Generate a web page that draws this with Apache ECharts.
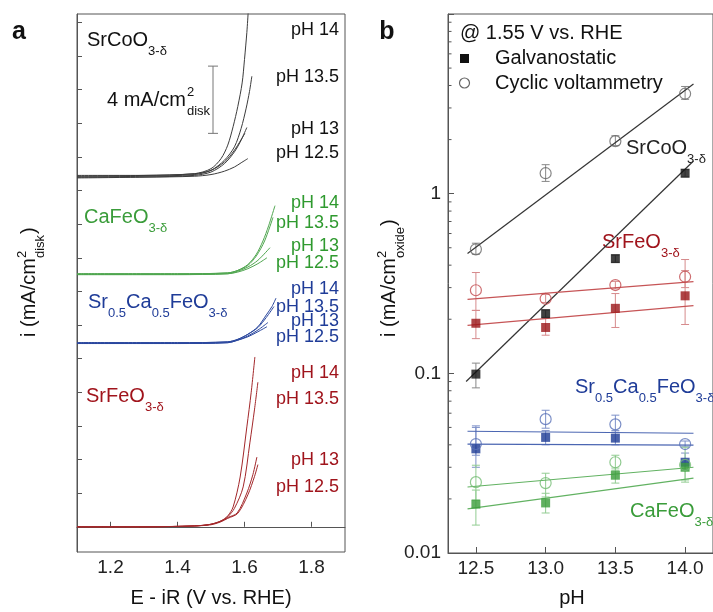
<!DOCTYPE html>
<html>
<head>
<meta charset="utf-8">
<title>OER activity vs pH</title>
<script src="https://cdn.jsdelivr.net/npm/echarts@6/dist/echarts.min.js"></script>
<style>
  html, body { margin: 0; padding: 0; background: #fff; }
  #main { width: 713px; height: 612px; }
</style>
</head>
<body>
<div id="main"></div>
<script>
// ---------- panel a : polarisation curves, [E - iR (V), i offset (mA/cm2)] ----------
var scoPH14  = [[1.10, 20.85], [1.30, 20.9], [1.45, 21.0], [1.50, 21.3], [1.53, 21.9], [1.55, 22.7], [1.566, 23.8], [1.58, 25.0], [1.593, 26.4], [1.60, 27.8], [1.607, 29.4], [1.611, 30.6]];
var scoPH135 = [[1.10, 20.8], [1.30, 20.85], [1.45, 20.95], [1.50, 21.2], [1.54, 21.8], [1.57, 22.6], [1.59, 23.7], [1.605, 24.9], [1.615, 25.9], [1.622, 26.8]];
var scoPH13a = [[1.10, 20.75], [1.30, 20.8], [1.45, 20.9], [1.50, 21.1], [1.54, 21.6], [1.57, 22.3], [1.59, 23.0], [1.607, 23.75]];
var scoPH13b = [[1.10, 20.9], [1.30, 20.9], [1.45, 21.0], [1.50, 21.2], [1.54, 21.7], [1.57, 22.4], [1.601, 23.4]];
var scoPH125 = [[1.10, 20.8], [1.30, 20.8], [1.45, 20.85], [1.50, 20.95], [1.54, 21.15], [1.57, 21.4], [1.59, 21.65], [1.61, 21.9]];

var cfoPH14  = [[1.10, 15.05], [1.40, 15.05], [1.55, 15.1], [1.58, 15.25], [1.61, 15.6], [1.635, 16.2], [1.655, 17.0], [1.672, 17.9], [1.691, 19.1]];
var cfoPH135 = [[1.10, 15.05], [1.40, 15.05], [1.55, 15.1], [1.58, 15.25], [1.61, 15.55], [1.635, 16.1], [1.66, 17.0], [1.685, 18.4]];
var cfoPH13  = [[1.10, 15.0], [1.40, 15.0], [1.55, 15.05], [1.58, 15.2], [1.61, 15.45], [1.64, 15.85], [1.676, 16.6]];
var cfoPH125 = [[1.10, 15.0], [1.40, 15.0], [1.55, 15.05], [1.58, 15.15], [1.61, 15.35], [1.64, 15.65], [1.667, 16.0]];

var scfPH14  = [[1.10, 10.95], [1.40, 10.95], [1.55, 11.0], [1.58, 11.15], [1.61, 11.45], [1.64, 11.9], [1.665, 12.6], [1.682, 13.1], [1.694, 13.6]];
var scfPH135 = [[1.10, 10.95], [1.40, 10.95], [1.55, 11.0], [1.58, 11.15], [1.61, 11.45], [1.64, 11.85], [1.665, 12.45], [1.688, 13.1]];
var scfPH13  = [[1.10, 10.9], [1.40, 10.9], [1.55, 10.95], [1.58, 11.1], [1.61, 11.35], [1.64, 11.7], [1.67, 12.15]];
var scfPH125 = [[1.10, 10.9], [1.40, 10.9], [1.55, 10.95], [1.58, 11.1], [1.61, 11.3], [1.64, 11.6], [1.667, 11.9]];

var sfoPH14  = [[1.10, 0], [1.30, 0], [1.45, 0.05], [1.50, 0.15], [1.53, 0.35], [1.55, 0.65], [1.566, 1.18], [1.587, 2.96], [1.607, 5.94], [1.62, 8.0], [1.631, 10.1]];
var sfoPH135 = [[1.10, 0], [1.30, 0], [1.45, 0.05], [1.50, 0.15], [1.53, 0.35], [1.55, 0.6], [1.57, 1.1], [1.596, 2.37], [1.616, 4.99], [1.63, 7.0], [1.64, 8.6]];
var sfoPH13  = [[1.10, 0], [1.30, 0], [1.45, 0.05], [1.50, 0.15], [1.53, 0.33], [1.55, 0.55], [1.578, 0.82], [1.607, 2.01], [1.625, 3.1], [1.637, 4.15]];
var sfoPH125 = [[1.10, 0], [1.30, 0], [1.45, 0.05], [1.50, 0.12], [1.53, 0.3], [1.55, 0.5], [1.58, 0.8], [1.61, 1.9], [1.63, 3.0], [1.64, 3.7]];

var scaleBar = [[1.506, 23.4, 27.4]];          // 4 mA/cm2 bar
var xTicksA = [1.2, 1.4, 1.6, 1.8];
var yTicksA = [0, 2, 4, 6, 8, 10, 12, 14, 16, 18, 20, 22, 24, 26, 28, 30];
var phLabels = ['pH 14', 'pH 13.5', 'pH 13', 'pH 12.5'];

// ---------- panel b : current at 1.55 V vs pH ----------
var pH = [12.5, 13.0, 13.5, 14.0];
var xTicksB = [12.5, 13.0, 13.5, 14.0];
var minorTicksB = [0.02, 0.03, 0.04, 0.05, 0.06, 0.07, 0.08, 0.09,
                   0.2, 0.3, 0.4, 0.5, 0.6, 0.7, 0.8, 0.9,
                   2, 3, 4, 5, 6, 7, 8, 9];

var scoGalv   = [0.099, 0.215, 0.435, 1.30];
var scoGalvLo = [0.083, 0.205, 0.415, 1.24];
var scoGalvHi = [0.114, 0.225, 0.455, 1.36];
var scoCv     = [0.49, 1.30, 1.96, 3.6];
var scoCvLo   = [0.46, 1.17, 1.85, 3.35];
var scoCvHi   = [0.53, 1.45, 2.10, 3.95];
var scoGalvFit = [[12.43, 0.090], [14.06, 1.52]];
var scoCvFit   = [[12.44, 0.464], [14.06, 4.08]];

var sfoGalv   = [0.19, 0.18, 0.23, 0.27];
var sfoGalvLo = [0.156, 0.163, 0.18, 0.187];
var sfoGalvHi = [0.224, 0.202, 0.278, 0.373];
var sfoCv     = [0.29, 0.26, 0.31, 0.345];
var sfoCvLo   = [0.224, 0.248, 0.295, 0.30];
var sfoCvHi   = [0.364, 0.275, 0.325, 0.43];
var sfoGalvFit = [[12.44, 0.185], [14.06, 0.238]];
var sfoCvFit   = [[12.44, 0.258], [14.06, 0.324]];

var scfGalv   = [0.038, 0.044, 0.0436, 0.032];
var scfGalvLo = [0.030, 0.040, 0.040, 0.029];
var scfGalvHi = [0.050, 0.048, 0.048, 0.036];
var scfCv     = [0.0404, 0.0556, 0.052, 0.0404];
var scfCvLo   = [0.035, 0.0495, 0.047, 0.039];
var scfCvHi   = [0.051, 0.0623, 0.0585, 0.042];
var scfGalvFit = [[12.44, 0.0404], [14.06, 0.0398]];
var scfCvFit   = [[12.44, 0.0476], [14.06, 0.0464]];

var cfoGalv   = [0.0187, 0.019, 0.0271, 0.030];
var cfoGalvLo = [0.0143, 0.0167, 0.0245, 0.0248];
var cfoGalvHi = [0.0224, 0.0215, 0.0297, 0.032];
var cfoCv     = [0.0248, 0.0245, 0.032, 0.0309];
var cfoCvLo   = [0.0197, 0.0205, 0.0289, 0.0255];
var cfoCvHi   = [0.0308, 0.0278, 0.035, 0.0388];
var cfoGalvFit = [[12.44, 0.0176], [14.06, 0.0261]];
var cfoCvFit   = [[12.44, 0.0233], [14.06, 0.0300]];

var FONT = '"Liberation Sans", Arial, sans-serif';
var AXIS = '#555';

var chart = echarts.init(document.getElementById('main'));

function curve(data, color) {
  return {
    type: 'line', xAxisIndex: 0, yAxisIndex: 0, data: data,
    showSymbol: false, smooth: 0.3, silent: true,
    lineStyle: { color: color, width: 1 }
  };
}

function errSeries(lo, hi, color) {
  return {
    type: 'custom', xAxisIndex: 1, yAxisIndex: 1, z: 1, silent: true,
    data: pH.map(function (x, k) { return [x, lo[k], hi[k]]; }),
    encode: { x: 0, y: [1, 2] },
    renderItem: function (params, api) {
      var a = api.coord([api.value(0), api.value(1)]);
      var b = api.coord([api.value(0), api.value(2)]);
      var w = 4, st = { stroke: color, lineWidth: 1 };
      return { type: 'group', children: [
        { type: 'line', shape: { x1: a[0], y1: a[1], x2: b[0], y2: b[1] }, style: st },
        { type: 'line', shape: { x1: a[0] - w, y1: a[1], x2: a[0] + w, y2: a[1] }, style: st },
        { type: 'line', shape: { x1: b[0] - w, y1: b[1], x2: b[0] + w, y2: b[1] }, style: st }
      ] };
    }
  };
}

function material(c, galv, gLo, gHi, cv, cLo, cHi, gFit, cFit, names) {
  var pts = function (v) { return pH.map(function (x, k) { return [x, v[k]]; }); };
  return [
    errSeries(gLo, gHi, c.err),
    errSeries(cLo, cHi, c.err),
    { type: 'line', xAxisIndex: 1, yAxisIndex: 1, data: gFit, showSymbol: false, silent: true, z: 2,
      lineStyle: { color: c.line, width: 1.2 } },
    { type: 'line', xAxisIndex: 1, yAxisIndex: 1, data: cFit, showSymbol: false, silent: true, z: 2,
      lineStyle: { color: c.line, width: 1.2 } },
    { type: 'scatter', name: names[0], xAxisIndex: 1, yAxisIndex: 1, data: pts(galv), z: 3,
      symbol: 'rect', symbolSize: 9, itemStyle: { color: c.sq } },
    { type: 'scatter', name: names[1], xAxisIndex: 1, yAxisIndex: 1, data: pts(cv), z: 4,
      symbol: 'circle', symbolSize: 11,
      itemStyle: { color: 'rgba(255,255,255,0)', borderColor: c.circ, borderWidth: 1.2 } }
  ];
}

var cBlack = { sq: '#111', circ: '#666', line: '#333', err: '#888' };
var cRed   = { sq: '#9a1518', circ: '#c24a4d', line: '#c65456', err: '#d68a8c' };
var cBlue  = { sq: '#1b3a94', circ: '#5a72b8', line: '#4b66b2', err: '#7d90c8' };
var cGreen = { sq: '#3a9c3a', circ: '#74bd74', line: '#62b262', err: '#92cc92' };

var series = [];
[scoPH14, scoPH135, scoPH13a, scoPH13b, scoPH125].forEach(function (d) { series.push(curve(d, '#3c3c3c')); });
[cfoPH14, cfoPH135, cfoPH13, cfoPH125].forEach(function (d) { series.push(curve(d, '#4fa64f')); });
[scfPH14, scfPH135, scfPH13, scfPH125].forEach(function (d) { series.push(curve(d, '#2a479e')); });
[sfoPH14, sfoPH135, sfoPH13, sfoPH125].forEach(function (d) { series.push(curve(d, '#a3272a')); });

series.push({
  type: 'custom', xAxisIndex: 0, yAxisIndex: 0, silent: true, data: scaleBar,
  encode: { x: 0, y: [1, 2] },
  renderItem: function (params, api) {
    var a = api.coord([api.value(0), api.value(1)]);
    var b = api.coord([api.value(0), api.value(2)]);
    var w = 5, st = { stroke: '#777', lineWidth: 1 };
    return { type: 'group', children: [
      { type: 'line', shape: { x1: a[0], y1: a[1], x2: b[0], y2: b[1] }, style: st },
      { type: 'line', shape: { x1: a[0] - w, y1: a[1], x2: a[0] + w, y2: a[1] }, style: st },
      { type: 'line', shape: { x1: b[0] - w, y1: b[1], x2: b[0] + w, y2: b[1] }, style: st }
    ] };
  }
});

series = series
  .concat(material(cBlack, scoGalv, scoGalvLo, scoGalvHi, scoCv, scoCvLo, scoCvHi, scoGalvFit, scoCvFit, ['Galvanostatic', 'Cyclic voltammetry']))
  .concat(material(cRed, sfoGalv, sfoGalvLo, sfoGalvHi, sfoCv, sfoCvLo, sfoCvHi, sfoGalvFit, sfoCvFit, ['SrFeO g', 'SrFeO cv']))
  .concat(material(cBlue, scfGalv, scfGalvLo, scfGalvHi, scfCv, scfCvLo, scfCvHi, scfGalvFit, scfCvFit, ['SCF g', 'SCF cv']))
  .concat(material(cGreen, cfoGalv, cfoGalvLo, cfoGalvHi, cfoCv, cfoCvLo, cfoCvHi, cfoGalvFit, cfoCvFit, ['CaFeO g', 'CaFeO cv']));

var tickLabel = { fontSize: 19, fontFamily: FONT, color: '#222' };

chart.setOption({
  animation: false,
  backgroundColor: '#fff',
  grid: [
    { left: 77, top: 14, width: 268, height: 538, show: true, borderColor: AXIS, borderWidth: 1 },
    { left: 448, top: 14, width: 268, height: 539, show: true, borderColor: AXIS, borderWidth: 1 }
  ],
  xAxis: [
    { type: 'value', gridIndex: 0, min: 1.1, max: 1.9,
      axisLine: { lineStyle: { color: AXIS } },
      axisTick: { inside: true, length: 5, customValues: xTicksA, lineStyle: { color: AXIS } },
      axisLabel: Object.assign({ customValues: xTicksA, margin: 6,
        formatter: function (v) { return v.toFixed(1); } }, tickLabel),
      splitLine: { show: false } },
    { type: 'value', gridIndex: 1, min: 12.3, max: 14.2,
      axisLine: { lineStyle: { color: AXIS } },
      axisTick: { inside: true, length: 6, customValues: xTicksB, lineStyle: { color: AXIS } },
      axisLabel: Object.assign({ customValues: xTicksB, margin: 6,
        formatter: function (v) { return v.toFixed(1); } }, tickLabel),
      splitLine: { show: false } }
  ],
  yAxis: [
    { type: 'value', gridIndex: 0, min: -1.5, max: 30.5,
      axisLine: { show: true, lineStyle: { color: AXIS } },
      axisTick: { show: true, inside: true, length: 5, customValues: yTicksA, lineStyle: { color: AXIS } },
      axisLabel: { show: false }, splitLine: { show: false } },
    { type: 'log', gridIndex: 1, min: 0.01, max: 10, logBase: 10, position: 'left',
      axisLine: { show: true, lineStyle: { color: AXIS } },
      axisTick: { show: true, inside: true, length: 6, lineStyle: { color: AXIS } },
      axisLabel: Object.assign({ margin: 7,
        formatter: function (v) { return v > 5 ? '' : String(+v.toPrecision(3)); } }, tickLabel),
      splitLine: { show: false } }
  ],
  series: series
});

// minor ticks of the log axis, placed through the axis scale
var minorEls = minorTicksB.map(function (v) {
  var p = chart.convertToPixel({ xAxisIndex: 1, yAxisIndex: 1 }, [12.3, v]);
  return { type: 'line', shape: { x1: p[0], y1: p[1], x2: p[0] + 3.5, y2: p[1] },
           style: { stroke: AXIS, lineWidth: 1 }, silent: true };
});

function plain(x, y, str, color, align, size) {
  return { type: 'text', x: x, y: y, silent: true,
    style: { text: str, fill: color, fontSize: size || 18, fontFamily: FONT,
             align: align || 'left', verticalAlign: 'middle' } };
}

function formula(x, y, str, color, size) {
  size = size || 20;
  return { type: 'text', x: x, y: y - (size + 2) / 2, silent: true,
    style: { text: str, align: 'left', verticalAlign: 'top',
      rich: {
        m: { fontSize: size, lineHeight: size + 2, fontFamily: FONT, fill: color, verticalAlign: 'top' },
        s: { fontSize: 13, lineHeight: 13, padding: [15, 0, 0, 0],
             fontFamily: FONT, fill: color, verticalAlign: 'top' }
      } } };
}

function yName(x, y, sub, subW) {
  var st = function (t, s) { return { text: t, fontSize: s, fontFamily: FONT, fill: '#111', align: 'left', verticalAlign: 'middle' }; };
  return { type: 'group', x: x, y: y, rotation: Math.PI / 2, silent: true, children: [
    { type: 'text', x: 0, y: 0, style: st('i (mA/cm', 20) },
    { type: 'text', x: 79, y: -7, style: st('2', 13) },
    { type: 'text', x: 79, y: 11, style: st(sub, 13) },
    { type: 'text', x: 80 + subW, y: 0, style: st(')', 20) }
  ] };
}

var labelsA = [
  { c: '#111', ys: [30, 77, 129, 153] },
  { c: '#2f9a2f', ys: [203, 223, 246, 263] },
  { c: '#1f3c98', ys: [289, 307, 321, 337] },
  { c: '#a0141c', ys: [373, 399, 460, 487] }
];

var els = [
  { type: 'text', x: 19, y: 32, silent: true,
    style: { text: 'a', fontSize: 25, fontWeight: 'bold', fontFamily: FONT, fill: '#111', align: 'center', verticalAlign: 'middle' } },
  { type: 'text', x: 387, y: 32, silent: true,
    style: { text: 'b', fontSize: 25, fontWeight: 'bold', fontFamily: FONT, fill: '#111', align: 'center', verticalAlign: 'middle' } },
  formula(87, 41, '{m|SrCoO}{s|3-δ}', '#111'),
  formula(84, 218, '{m|CaFeO}{s|3-δ}', '#3a9c3a'),
  formula(88, 303, '{m|Sr}{s|0.5}{m|Ca}{s|0.5}{m|FeO}{s|3-δ}', '#1f3c98'),
  formula(86, 397, '{m|SrFeO}{s|3-δ}', '#a0141c'),
  plain(107, 100, '4 mA/cm', '#111', 'left', 20),
  plain(187, 92, '2', '#111', 'left', 13),
  plain(187, 111, 'disk', '#111', 'left', 13),
  yName(29, 337, 'disk', 23),
  yName(389, 337, 'oxide', 31),
  plain(211, 598, 'E - iR (V vs. RHE)', '#111', 'center', 20),
  plain(572, 598, 'pH', '#111', 'center', 20),
  plain(460, 33, '@ 1.55 V vs. RHE', '#111', 'left', 20),
  { type: 'rect', shape: { x: 460, y: 54, width: 9, height: 9 }, style: { fill: '#111' }, silent: true },
  { type: 'circle', shape: { cx: 464.5, cy: 83, r: 5 }, style: { fill: '#fff', stroke: '#666', lineWidth: 1.2 }, silent: true },
  plain(495, 58, 'Galvanostatic', '#111', 'left', 20),
  plain(495, 83, 'Cyclic voltammetry', '#111', 'left', 20),
  formula(626, 149, '{m|SrCoO}{s|3-δ}', '#222'),
  formula(602, 243, '{m|SrFeO}{s|3-δ}', '#a0141c'),
  formula(575, 388, '{m|Sr}{s|0.5}{m|Ca}{s|0.5}{m|FeO}{s|3-δ}', '#1f3c98'),
  formula(630, 512, '{m|CaFeO}{s|3-δ}', '#3a9c3a')
];

labelsA.forEach(function (g) {
  g.ys.forEach(function (y, k) { els.push(plain(339, y, phLabels[k], g.c, 'right', 18)); });
});

chart.setOption({ graphic: els.concat(minorEls) });
</script>
</body>
</html>
